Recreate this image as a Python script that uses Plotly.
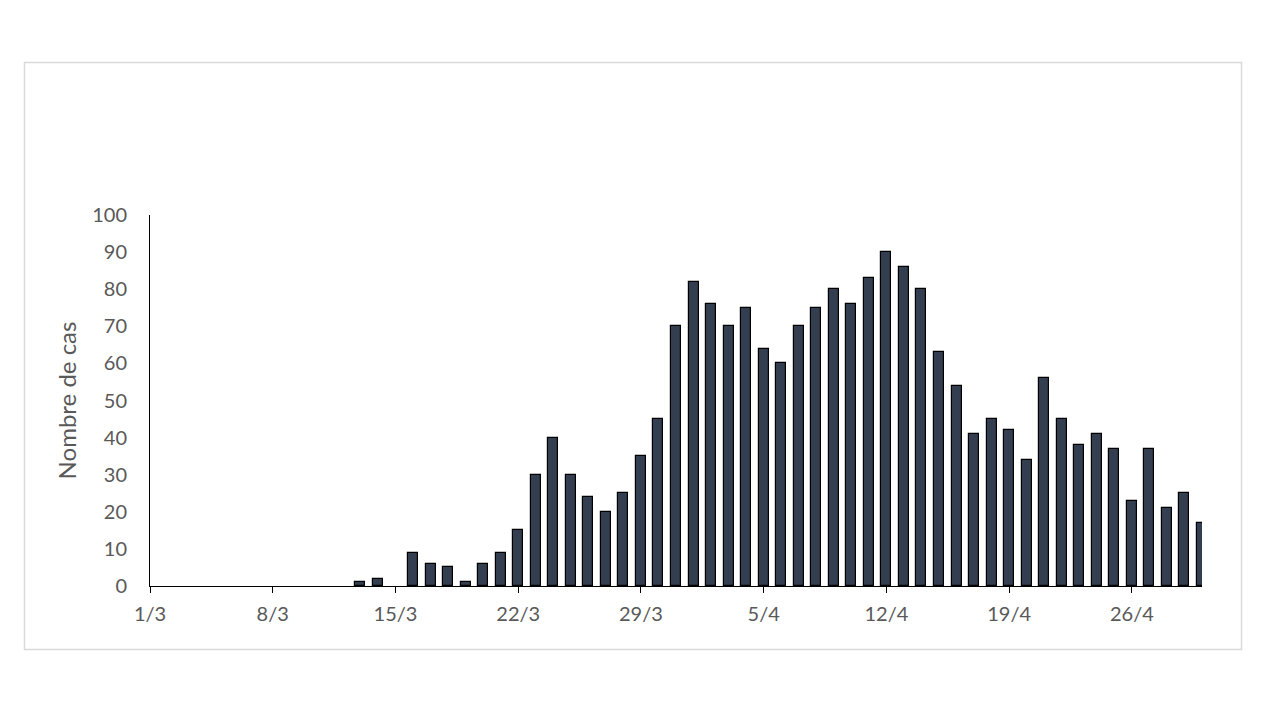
import plotly.graph_objects as go

# Dates (day/month, 2020) and daily case counts
dates = [
    "2020-03-13", "2020-03-14", "2020-03-15", "2020-03-16", "2020-03-17", "2020-03-18",
    "2020-03-19", "2020-03-20", "2020-03-21", "2020-03-22", "2020-03-23", "2020-03-24",
    "2020-03-25", "2020-03-26", "2020-03-27", "2020-03-28", "2020-03-29", "2020-03-30",
    "2020-03-31", "2020-04-01", "2020-04-02", "2020-04-03", "2020-04-04", "2020-04-05",
    "2020-04-06", "2020-04-07", "2020-04-08", "2020-04-09", "2020-04-10", "2020-04-11",
    "2020-04-12", "2020-04-13", "2020-04-14", "2020-04-15", "2020-04-16", "2020-04-17",
    "2020-04-18", "2020-04-19", "2020-04-20", "2020-04-21", "2020-04-22", "2020-04-23",
    "2020-04-24", "2020-04-25", "2020-04-26", "2020-04-27", "2020-04-28", "2020-04-29",
    "2020-04-30",
]
cases = [
    1, 2, 0, 9, 6, 5,
    1, 6, 9, 15, 30, 40,
    30, 24, 20, 25, 35, 45,
    70, 82, 76, 70, 75, 64,
    60, 70, 75, 80, 76, 83,
    90, 86, 80, 63, 54, 41,
    45, 42, 34, 56, 45, 38,
    41, 37, 23, 37, 21, 25,
    17,
]

tick_vals = ["2020-03-01", "2020-03-08", "2020-03-15", "2020-03-22", "2020-03-29",
             "2020-04-05", "2020-04-12", "2020-04-19", "2020-04-26"]
tick_text = ["1/3", "8/3", "15/3", "22/3", "29/3", "5/4", "12/4", "19/4", "26/4"]

y_title = "Nombre de cas"

FONT = "Lato, 'Open Sans', sans-serif"
GREY = "#595959"

# zero-count days draw no bar
bar_values = [v if v > 0 else None for v in cases]

fig = go.Figure()
fig.add_trace(go.Bar(
    x=dates,
    y=bar_values,
    width=0.57 * 86400000,
    marker=dict(color="#333F50", line=dict(color="#000000", width=1.2)),
    hoverinfo="x+y",
))

# page has an 8px body margin; figure sized to fit inside the window
OFF = 8
W, H = 1280 - 2 * OFF, 720 - 2 * OFF
L, T = 150 - OFF, 215 - OFF
R = W - (1202 - OFF)
B = H - (586 - OFF)
pw = W - L - R
ph = H - T - B

def px_to_paper_x(px):
    return (px - OFF - L) / pw

def px_to_paper_y(py):
    return (H - B - (py - OFF)) / ph

fig.update_layout(
    width=W, height=H,
    margin=dict(l=L, r=R, t=T, b=B, pad=0),
    paper_bgcolor="white",
    plot_bgcolor="white",
    showlegend=False,
    font=dict(family=FONT, color=GREY, size=20),
    bargap=0,
    shapes=[dict(
        type="rect", xref="paper", yref="paper",
        x0=px_to_paper_x(24.5), x1=px_to_paper_x(1241.5),
        y0=px_to_paper_y(649.5), y1=px_to_paper_y(62.5),
        line=dict(color="#D9D9D9", width=1.5),
        fillcolor="rgba(0,0,0,0)",
        layer="below",
    )],
)

fig.update_xaxes(
    type="date",
    range=["2020-03-01", "2020-04-30"],
    tickmode="array",
    tickvals=tick_vals,
    ticktext=tick_text,
    showline=True, linecolor="#000000", linewidth=1,
    ticks="outside", ticklen=6, tickcolor="#000000", tickwidth=1,
    ticklabelstandoff=4,
    showgrid=False, zeroline=False,
    tickfont=dict(family=FONT, size=20, color=GREY),
)
fig.update_yaxes(
    range=[0, 100],
    tick0=0, dtick=10,
    showline=True, linecolor="#000000", linewidth=1,
    ticks="", showgrid=False, zeroline=False,
    ticklabelstandoff=18,
    tickfont=dict(family=FONT, size=20, color=GREY),
    title=dict(text=y_title, font=dict(family=FONT, size=24, color=GREY), standoff=8),
)

fig.write_html("out.html")
